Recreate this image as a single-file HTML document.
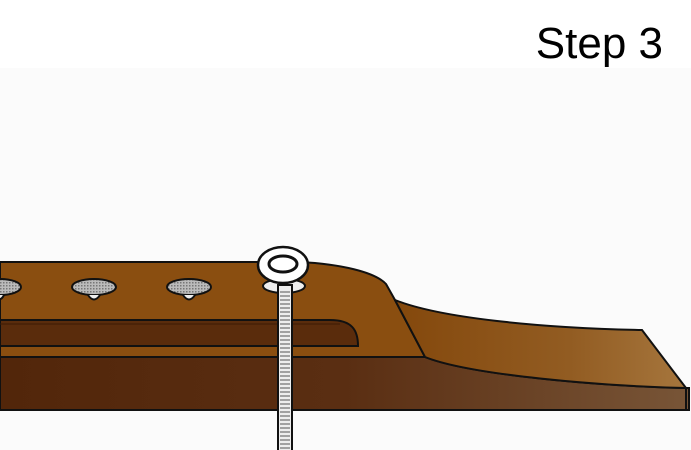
<!DOCTYPE html>
<html><head><style>
body{margin:0;width:691px;height:450px;overflow:hidden;background:#fff}
svg{display:block}
</style></head><body>
<svg width="691" height="450" viewBox="0 0 691 450" xmlns="http://www.w3.org/2000/svg">
<defs>
<linearGradient id="top" x1="0" x2="1" y1="0" y2="0"><stop offset="0" stop-color="#84480c"/><stop offset="0.6" stop-color="#925c22"/><stop offset="1" stop-color="#a6763d"/></linearGradient>
<linearGradient id="front" x1="0" x2="1" y1="0" y2="0"><stop offset="0" stop-color="#52260a"/><stop offset="0.5" stop-color="#5a2e12"/><stop offset="1" stop-color="#785537"/></linearGradient>
<pattern id="dots" width="3" height="3" patternUnits="userSpaceOnUse"><rect width="3" height="3" fill="#bbb"/><rect width="1.5" height="1.5" fill="#777"/></pattern>
</defs>
<rect x="0" y="68" width="691" height="382" fill="#fbfbfb"/>
<text x="663" y="58" text-anchor="end" font-family="Liberation Sans, sans-serif" font-size="44" fill="#000">Step 3</text>
<path d="M0 357 L425 357 C470 375 600 386 686 388 L689 388 L689 410 L0 410 Z" fill="url(#front)" stroke="#111" stroke-width="2"/>
<path d="M0 262 L300 262 C340 264 375 272 386 284 L395 300 L425 357 L0 357 Z" fill="#8a4e10" stroke="#111" stroke-width="2"/>
<path d="M395 300 C440 318 540 328 642 330 L686 388 C600 386 470 375 425 357 Z" fill="url(#top)" stroke="#111" stroke-width="2"/>
<line x1="686" y1="388" x2="686" y2="410" stroke="#111" stroke-width="2"/>
<path d="M0 320 L330 320 C352 320 358 330 358 346 L0 346 Z" fill="#5a2c0c" stroke="#111" stroke-width="2"/>
<line x1="0" y1="324" x2="340" y2="324" stroke="#3c1a05" stroke-width="1"/>
<g stroke="#111" stroke-width="2">
<ellipse cx="0" cy="287" rx="21" ry="8" fill="url(#dots)"/>
<path d="M-4 295 Q0 303 4 295" fill="#eee"/>
<ellipse cx="94" cy="287" rx="22" ry="8" fill="url(#dots)"/>
<path d="M88 295 Q94 304 100 295" fill="#eee"/>
<ellipse cx="189" cy="287" rx="22" ry="8" fill="url(#dots)"/>
<path d="M183 295 Q189 304 195 295" fill="#eee"/>
<ellipse cx="284" cy="286" rx="21" ry="7" fill="#eee"/>
</g>
<rect x="278" y="285" width="14" height="170" fill="#eee" stroke="#111" stroke-width="2"/>
<g stroke="#888" stroke-width="1.5">
<path d="M280 292 H290 M280 296 H290 M280 300 H290 M280 304 H290 M280 308 H290 M280 312 H290 M280 316 H290 M280 320 H290 M280 324 H290 M280 328 H290 M280 332 H290 M280 336 H290 M280 340 H290 M280 344 H290 M280 348 H290 M280 352 H290 M280 356 H290 M280 360 H290 M280 364 H290 M280 368 H290 M280 372 H290 M280 376 H290 M280 380 H290 M280 384 H290 M280 388 H290 M280 392 H290 M280 396 H290 M280 400 H290 M280 404 H290 M280 408 H290 M280 412 H290 M280 416 H290 M280 420 H290 M280 424 H290 M280 428 H290 M280 432 H290 M280 436 H290 M280 440 H290 M280 444 H290 M280 448 H290"/>
</g>
<ellipse cx="283" cy="265" rx="25" ry="18" fill="#fff" stroke="#111" stroke-width="2.5"/>
<ellipse cx="283" cy="264" rx="14" ry="8" fill="#fff" stroke="#111" stroke-width="3"/>
</svg>
</body></html>
